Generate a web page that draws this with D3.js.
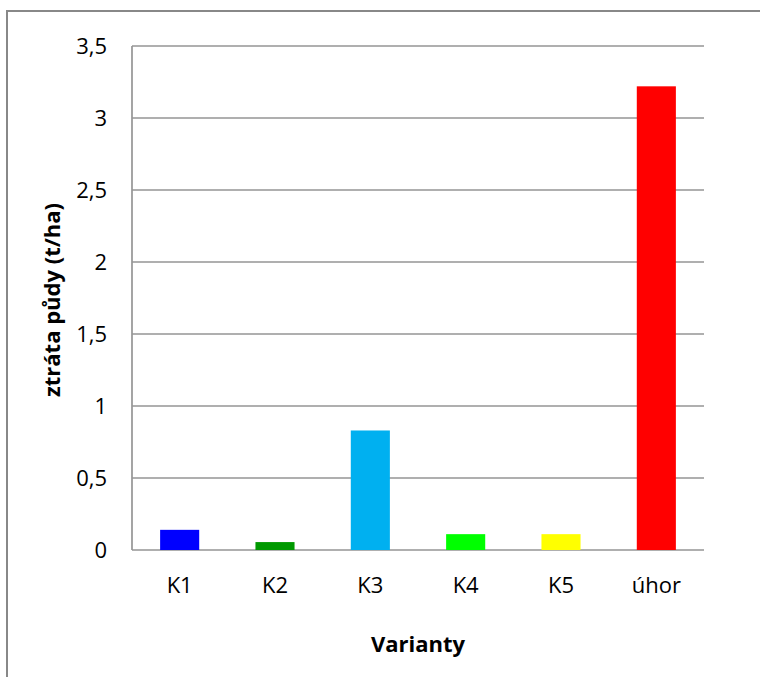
<!DOCTYPE html>
<html>
<head>
<meta charset="utf-8">
<script src="https://cdn.jsdelivr.net/npm/d3@7"></script>
<style>
  body { margin: 0; background: #fff; }
  text { font-family: "Open Sans", sans-serif; fill: #000; }
</style>
</head>
<body>
<script>
var varianty = ["K1", "K2", "K3", "K4", "K5", "úhor"];
var ztrata = [0.14, 0.055, 0.83, 0.11, 0.11, 3.22];
var barvy = ["#0000ff", "#009900", "#00b0f0", "#00ff00", "#ffff00", "#ff0000"];
var yTicks = [0, 0.5, 1, 1.5, 2, 2.5, 3, 3.5];

var totalWidth = 760;
var totalHeight = 677;
var margin = {top: 46, left: 132, bottom: 127, right: 56};
var width = totalWidth - margin.left - margin.right;
var height = totalHeight - margin.top - margin.bottom;

var svgin = d3.select("body")
    .append("svg")
    .attr("width", totalWidth)
    .attr("height", totalHeight);

// ramecek kolem grafu
svgin.append("path")
    .attr("d", "M7," + totalHeight + "V11H" + totalWidth)
    .attr("fill", "none")
    .attr("stroke", "#888")
    .attr("stroke-width", 2);

var svg = svgin.append("g")
    .attr("transform", "translate(" + margin.left + "," + margin.top + ")");

var x = d3.scaleBand()
    .domain(varianty)
    .range([0, width])
    .paddingInner(0.59)
    .paddingOuter(0.295);

var y = d3.scaleLinear()
    .domain([0, 3.5])
    .range([height, 0]);

var fmt = function(d) { return String(d).replace(".", ","); };

// mrizka
svg.selectAll("line.grid")
   .data(yTicks)
   .enter()
   .append("line")
   .attr("class", "grid")
   .attr("x1", 0)
   .attr("x2", width)
   .attr("y1", d => y(d))
   .attr("y2", d => y(d))
   .attr("stroke", "#959595")
   .attr("stroke-width", 1.7);

// osa y
svg.append("line")
   .attr("x1", 0).attr("x2", 0)
   .attr("y1", 0).attr("y2", height)
   .attr("stroke", "#959595")
   .attr("stroke-width", 1.7);

svg.selectAll("text.ytick")
   .data(yTicks)
   .enter()
   .append("text")
   .attr("class", "ytick")
   .attr("x", -25)
   .attr("y", d => y(d))
   .attr("dy", "0.35em")
   .attr("text-anchor", "end")
   .attr("font-size", 22)
   .text(fmt);

svg.selectAll("rect")
   .data(ztrata)
   .enter()
   .append("rect")
   .attr("x", (d, i) => x(varianty[i]))
   .attr("y", d => y(d))
   .attr("width", x.bandwidth())
   .attr("height", d => height - y(d))
   .attr("fill", (d, i) => barvy[i]);

svg.selectAll("text.xtick")
   .data(varianty)
   .enter()
   .append("text")
   .attr("class", "xtick")
   .attr("x", d => x(d) + x.bandwidth() / 2)
   .attr("y", height + 43)
   .attr("text-anchor", "middle")
   .attr("font-size", 22)
   .text(d => d);

svg.append("text")
   .attr("x", width / 2)
   .attr("y", height + 102)
   .attr("text-anchor", "middle")
   .attr("font-size", 22)
   .attr("font-weight", "bold")
   .text("Varianty");

svgin.append("text")
   .attr("transform", "translate(60,300) rotate(-90)")
   .attr("text-anchor", "middle")
   .attr("font-size", 22)
   .attr("font-weight", "bold")
   .text("ztráta půdy (t/ha)");
</script>
</body>
</html>
